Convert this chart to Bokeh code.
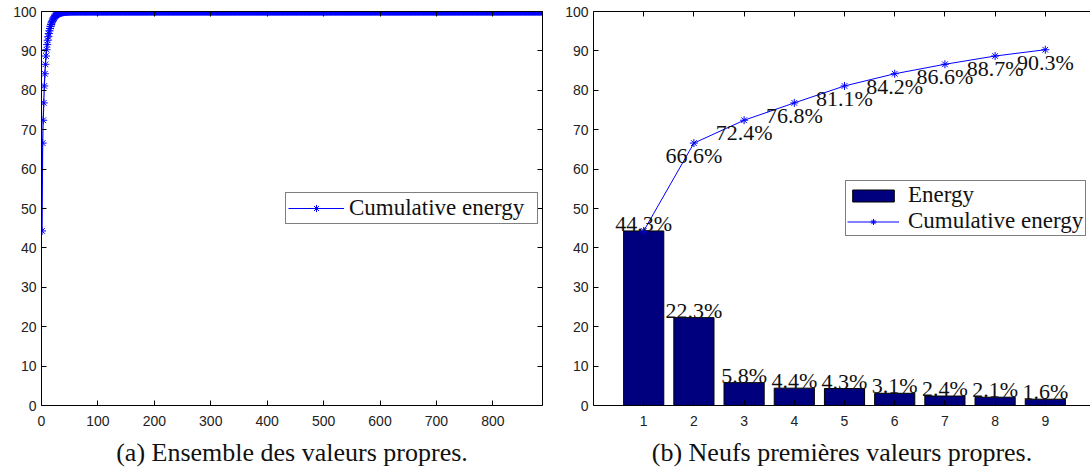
from bokeh.plotting import figure
from bokeh.layouts import row
from bokeh.models import (LinearAxis, Range1d, FixedTicker, Legend, LegendItem,
                          ColumnDataSource, LabelSet)
from bokeh.embed import file_html
from bokeh.resources import INLINE

# ---------------- data ----------------
n_eigen = 888
cum_energy_head = [
    44.3, 66.6, 72.4, 76.8, 81.1, 84.2, 86.6, 88.7, 90.3,
    91.6, 92.7, 93.6, 94.4, 95.1, 95.7, 96.2, 96.7, 97.1, 97.5, 97.8,
    98.1, 98.35, 98.6, 98.8, 98.95, 99.1, 99.2, 99.3, 99.4, 99.48,
    99.55, 99.6, 99.65, 99.7, 99.74, 99.77, 99.8, 99.83, 99.85, 99.87,
    99.89, 99.9, 99.91, 99.92, 99.93, 99.94, 99.95, 99.96, 99.97, 99.97,
    99.98, 99.98, 99.98, 99.99, 99.99, 99.99, 99.99, 99.99, 100.0, 100.0,
]
cum_energy_tail = [100.0] * (n_eigen - len(cum_energy_head))
eigen_index = list(range(1, n_eigen + 1))
cum_energy_all = cum_energy_head + cum_energy_tail

components = [1, 2, 3, 4, 5, 6, 7, 8, 9]
energy = [44.3, 22.3, 5.8, 4.4, 4.3, 3.1, 2.4, 2.1, 1.6]
cum_energy = [44.3, 66.6, 72.4, 76.8, 81.1, 84.2, 86.6, 88.7, 90.3]

x_ticks_a = [0, 100, 200, 300, 400, 500, 600, 700, 800]
y_ticks = [0, 10, 20, 30, 40, 50, 60, 70, 80, 90, 100]
caption_a = "(a) Ensemble des valeurs propres."
caption_b = "(b) Neufs premières valeurs propres."
legend_energy = "Energy"
legend_cum = "Cumulative energy"

SANS = "Liberation Sans"
SERIF = "Liberation Serif"
BLUE = "#0000ff"
NAVY = "#00007f"


def style_axes(p, xticks, caption, right_axis=True):
    p.xgrid.grid_line_color = None
    p.ygrid.grid_line_color = None
    p.outline_line_color = None
    p.background_fill_color = "white"
    p.border_fill_color = "white"
    bottom = p.below[0]
    left = p.left[0]
    bottom.ticker = FixedTicker(ticks=xticks)
    left.ticker = FixedTicker(ticks=y_ticks)
    top = LinearAxis(ticker=FixedTicker(ticks=xticks))
    p.add_layout(top, "above")
    extra = [top]
    if right_axis:
        right = LinearAxis(ticker=FixedTicker(ticks=y_ticks))
        p.add_layout(right, "right")
        extra.append(right)
    for ax in [bottom, left] + extra:
        ax.major_tick_in = 5
        ax.major_tick_out = 0
        ax.minor_tick_line_color = None
        ax.axis_line_color = "black"
        ax.axis_line_width = 1
        ax.major_tick_line_color = "black"
        ax.major_label_text_font = SANS
        ax.major_label_text_font_size = "14px"
        ax.major_label_text_color = "#222222"
    for ax in extra:
        ax.major_label_text_font_size = "1px"
        ax.major_label_text_color = None
        ax.major_label_standoff = 0
    left.major_label_standoff = 5
    bottom.major_label_standoff = 10
    bottom.axis_label = caption
    bottom.axis_label_text_font = SERIF
    bottom.axis_label_text_font_size = "26px"
    bottom.axis_label_text_font_style = "normal"
    bottom.axis_label_text_color = "#111111"
    bottom.axis_label_standoff = 9


LEGEND_STYLE = dict(border_line_color="black", border_line_width=1,
                    background_fill_alpha=1, label_text_font=SERIF,
                    label_text_font_size="23px", label_text_color="#111111",
                    spacing=0, margin=0, label_height=20)

# ---------------- left plot ----------------
p1 = figure(frame_width=501, frame_height=394, min_border_left=41,
            min_border_right=20, min_border_top=11, min_border_bottom=0,
            x_range=Range1d(0, n_eigen), y_range=Range1d(0, 100),
            output_backend="svg", toolbar_location=None)
style_axes(p1, x_ticks_a, caption_a)
src1 = ColumnDataSource(dict(x=eigen_index, y=cum_energy_all))
l1 = p1.line("x", "y", source=src1, color=BLUE, line_width=1.2)
m1 = p1.scatter("x", "y", source=src1, marker="asterisk", size=8,
                line_color=BLUE, line_width=1)
leg1 = Legend(items=[LegendItem(label=legend_cum, renderers=[l1, m1])],
              location=(244, 181), glyph_width=56, glyph_height=18,
              label_standoff=5, label_width=186, padding=2, **LEGEND_STYLE)
p1.add_layout(leg1)

# ---------------- right plot ----------------
p2 = figure(frame_width=497, frame_height=394, min_border_left=25,
            min_border_right=0, min_border_top=11, min_border_bottom=0,
            x_range=Range1d(0, 9.9), y_range=Range1d(0, 100),
            output_backend="svg", toolbar_location=None)
style_axes(p2, components, caption_b, right_axis=False)
src2 = ColumnDataSource(dict(
    x=components, energy=energy, cum=cum_energy,
    elab=[f"{v}%" for v in energy]))
b2 = p2.vbar(x="x", top="energy", source=src2, width=0.8,
             fill_color=NAVY, line_color="black", line_width=1)
l2 = p2.line("x", "cum", source=src2, color=BLUE, line_width=1)
m2 = p2.scatter("x", "cum", source=src2, marker="asterisk", size=8,
                line_color=BLUE, line_width=1)
p2.add_layout(LabelSet(x="x", y="energy", text="elab", source=src2,
                       text_align="center", text_baseline="alphabetic",
                       text_font=SERIF, text_font_size="22px",
                       text_color="#111111", y_offset=0))
src2c = ColumnDataSource(dict(x=components[1:], cum=cum_energy[1:],
                              clab=[f"{v}%" for v in cum_energy[1:]]))
p2.add_layout(LabelSet(x="x", y="cum", text="clab", source=src2c,
                       text_align="center", text_baseline="top",
                       text_font=SERIF, text_font_size="22px",
                       text_color="#111111", y_offset=0))
leg2 = Legend(items=[LegendItem(label=legend_energy, renderers=[b2]),
                     LegendItem(label=legend_cum, renderers=[l2, m2])],
              location=(252, 169), glyph_width=52, glyph_height=15,
              label_standoff=9, label_width=176, padding=1, **LEGEND_STYLE)
p2.add_layout(leg2)

layout = row(p1, p2)
open("out.html", "w").write(file_html(layout, INLINE))
